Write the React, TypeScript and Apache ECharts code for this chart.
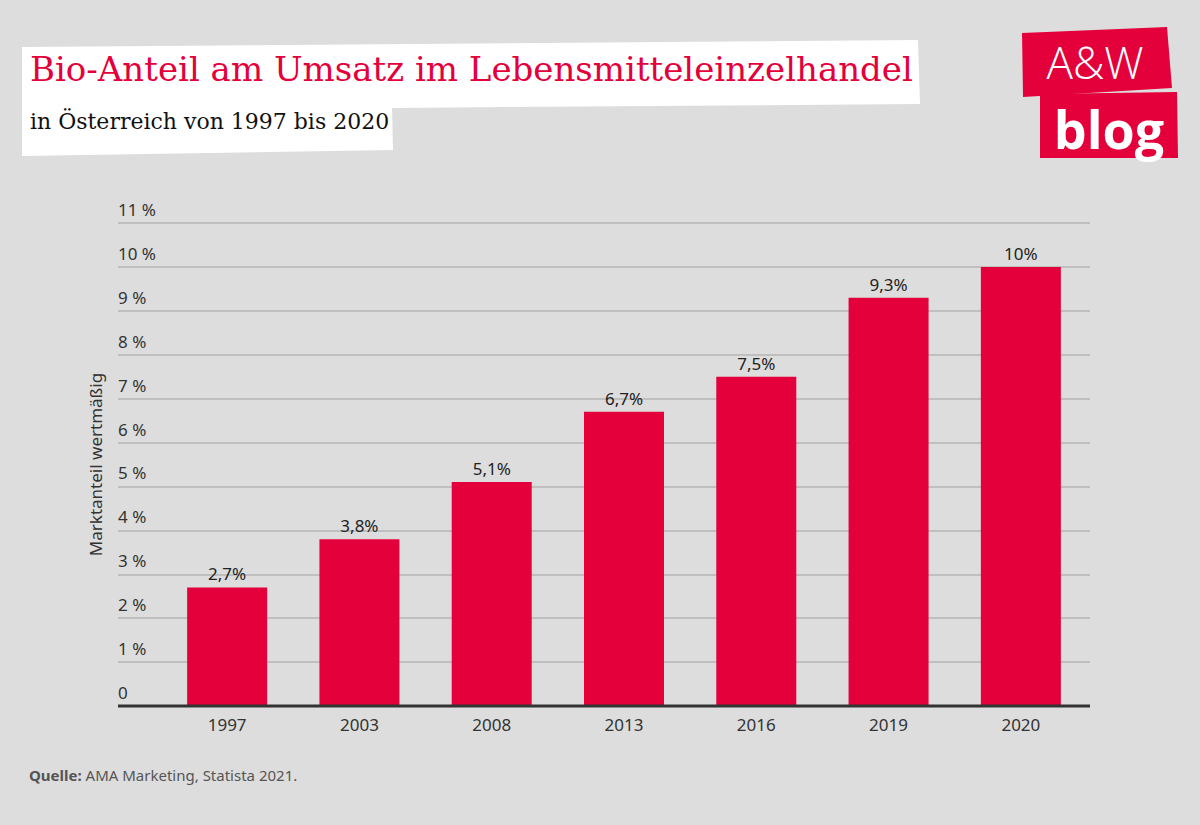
import React, { useEffect, useRef } from "react";
import * as echarts from "echarts";

const years = ["1997", "2003", "2008", "2013", "2016", "2019", "2020"];
const shares = [2.7, 3.8, 5.1, 6.7, 7.5, 9.3, 10];
const yMax = 11;

const RED = "#e4003b";
const FONT = "Noto Sans";

export default function App() {
  const ref = useRef<HTMLDivElement>(null);
  useEffect(() => {
    if (!ref.current) return;
    const chart = echarts.init(ref.current, null, { renderer: "svg" });
    const fmt = (v: number) => String(v).replace(".", ",");
    chart.setOption({
      animation: false,
      backgroundColor: "#dddddd",
      grid: [
        { left: 118, right: 110, top: 223, bottom: 119 },
        { left: 161, right: 113, top: 223, bottom: 119 },
      ],
      xAxis: [
        {
          type: "category",
          gridIndex: 0,
          data: years,
          show: false,
        },
        {
          type: "category",
          gridIndex: 1,
          data: years,
          axisLine: { show: false },
          axisTick: { show: false },
          axisLabel: { color: "#333", fontFamily: FONT, fontSize: 17, margin: 10 },
        },
      ],
      yAxis: [
        {
          type: "value",
          gridIndex: 0,
          min: 0,
          max: yMax,
          interval: 1,
          name: "Marktanteil wertmäßig",
          nameLocation: "middle",
          nameGap: 14,
          nameRotate: 90,
          nameTextStyle: { color: "#333", fontFamily: FONT, fontSize: 17 },
          axisLine: { show: false },
          axisTick: { show: false },
          splitLine: { lineStyle: { color: "#b5b5b5", width: 1.5 } },
          axisLabel: {
            inside: true,
            margin: 0,
            verticalAlign: "bottom",
            padding: [0, 0, 5, 0],
            color: "#333",
            fontFamily: FONT,
            fontSize: 17,
            formatter: (v: number) => (v === 0 ? "0" : `${v} %`),
          },
        },
        {
          type: "value",
          gridIndex: 1,
          min: 0,
          max: yMax,
          interval: 1,
          show: false,
          splitLine: { show: false },
        },
      ],
      series: [
        {
          type: "bar",
          xAxisIndex: 1,
          yAxisIndex: 1,
          data: shares,
          barWidth: 80,
          itemStyle: { color: RED },
          label: {
            show: true,
            position: "top",
            distance: 5,
            color: "#222",
            fontFamily: FONT,
            fontSize: 17,
            formatter: (p: any) => `${fmt(p.value)}%`,
          },
        },
      ],
      graphic: [
        {
          type: "line",
          shape: { x1: 118, y1: 706, x2: 1090, y2: 706 },
          style: { stroke: "#333", lineWidth: 3 },
          z: 10,
        },
        {
          type: "polygon",
          shape: {
            points: [
              [22, 47],
              [918, 40],
              [920, 104],
              [392, 108],
              [393, 150],
              [22, 156],
            ],
          },
          style: { fill: "#ffffff" },
        },
        {
          type: "text",
          left: 30,
          top: 52,
          style: {
            text: "Bio-Anteil am Umsatz im Lebensmitteleinzelhandel",
            fill: RED,
            font: `34px "DejaVu Serif"`,
          },
        },
        {
          type: "text",
          left: 30,
          top: 110,
          style: {
            text: "in Österreich von 1997 bis 2020",
            fill: "#111",
            font: `22px "DejaVu Serif"`,
          },
        },
        {
          type: "polygon",
          shape: {
            points: [
              [1022, 33],
              [1167, 27],
              [1172, 88],
              [1023, 97],
            ],
          },
          style: { fill: RED },
        },
        {
          type: "polygon",
          shape: {
            points: [
              [1040, 94],
              [1177, 92],
              [1178, 158],
              [1040, 158],
            ],
          },
          style: { fill: RED },
        },
        {
          type: "text",
          x: 1095,
          y: 62,
          style: {
            text: "A&W",
            fill: "#fff",
            font: `300 44px "Open Sans"`,
            align: "center",
            verticalAlign: "middle",
          },
        },
        {
          type: "text",
          x: 1109,
          y: 128,
          style: {
            text: "blog",
            fill: "#fff",
            font: `bold 52px "Open Sans"`,
            align: "center",
            verticalAlign: "middle",
          },
        },
        {
          type: "text",
          left: 29,
          top: 767,
          style: {
            text: "{b|Quelle:} AMA Marketing, Statista 2021.",
            fill: "#555",
            font: `15px "${FONT}"`,
            rich: {
              b: { fontWeight: "bold", fill: "#555", fontSize: 15, fontFamily: FONT },
            },
          },
        },
      ],
    });
    return () => chart.dispose();
  }, []);
  return (
    <div
      ref={ref}
      style={{ position: "fixed", left: 0, top: 0, width: 1200, height: 825 }}
    />
  );
}
